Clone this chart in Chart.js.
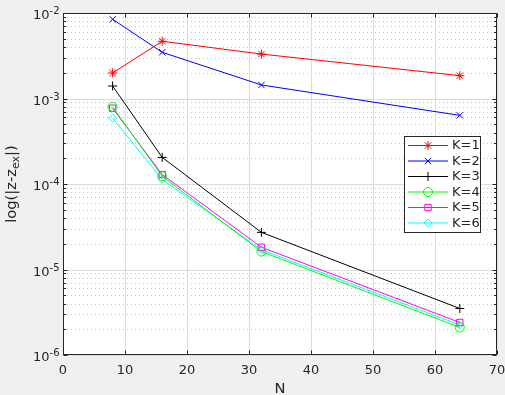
<!DOCTYPE html>
<html>
<head>
<meta charset="utf-8">
<script src="https://cdn.jsdelivr.net/npm/chart.js@4/dist/chart.umd.min.js"></script>
<style>
  html, body { margin: 0; padding: 0; background: #f0f0f0; }
  #wrap { width: 505px; height: 395px; }
</style>
</head>
<body>
<div id="wrap"><canvas id="myChart" width="505" height="395"></canvas></div>
<script>
// data
var nValues = [8, 16, 32, 64];
var seriesNames = ["K=1", "K=2", "K=3", "K=4", "K=5", "K=6"];
var errK1 = [1.99e-3, 4.67e-3, 3.31e-3, 1.85e-3];
var errK2 = [8.44e-3, 3.47e-3, 1.44e-3, 6.35e-4];
var errK3 = [1.40e-3, 2.05e-4, 2.72e-5, 3.50e-6];
var errK4 = [8.0e-4, 1.23e-4, 1.62e-5, 2.10e-6];
var errK5 = [7.7e-4, 1.29e-4, 1.82e-5, 2.40e-6];
var errK6 = [5.9e-4, 1.13e-4, 1.70e-5, 2.25e-6];
var xTicks = [0, 10, 20, 30, 40, 50, 60, 70];
var yTickExps = [-6, -5, -4, -3, -2];

var colors = ["#ff0000", "#0000ff", "#000000", "#00ff00", "#ff00ff", "#00ffff"];
var markers = ["star", "crossRot", "cross", "circle", "rect", "rectRot"];
var allErr = [errK1, errK2, errK3, errK4, errK5, errK6];

var FONT = "'DejaVu Sans', sans-serif";
var AXIS = "#262626";

function makeSet(i) {
  var pts = [];
  for (var j = 0; j < nValues.length; j++) pts.push({x: nValues[j], y: allErr[i][j]});
  return {
    label: seriesNames[i],
    data: pts,
    borderColor: colors[i],
    backgroundColor: "rgba(0,0,0,0)",
    pointBackgroundColor: "rgba(0,0,0,0)",
    pointBorderColor: colors[i],
    pointStyle: markers[i],
    pointRadius: markers[i] == "rectRot" ? 4 : 4.5,
    pointBorderWidth: 1,
    borderWidth: 1,
    tension: 0
  };
}

var datasets = [];
for (var i = 0; i < seriesNames.length; i++) datasets.push(makeSet(i));

function markerDraw(ctx, style, x, y, r) {
  if (Chart.helpers && Chart.helpers.drawPoint) {
    Chart.helpers.drawPoint(ctx, {pointStyle: style, rotation: 0, radius: r, borderWidth: 1}, x, y);
  }
}

var matlabPlugin = {
  id: 'matlab',
  beforeDraw: function(chart) {
    var ctx = chart.ctx, a = chart.chartArea;
    ctx.save();
    ctx.fillStyle = "#f0f0f0";
    ctx.fillRect(0, 0, chart.width, chart.height);
    ctx.fillStyle = "#ffffff";
    ctx.fillRect(a.left, a.top, a.right - a.left, a.bottom - a.top);
    ctx.restore();
  },
  beforeDatasetsDraw: function(chart) {
    var ctx = chart.ctx, a = chart.chartArea;
    var xs = chart.scales.x, ys = chart.scales.y;
    ctx.save();
    ctx.lineWidth = 1;
    // minor y grid (dotted)
    ctx.strokeStyle = "#c4c4c4";
    ctx.setLineDash([1, 3]);
    for (var e = -6; e < -2; e++) {
      for (var m = 2; m <= 9; m++) {
        var py = Math.round(ys.getPixelForValue(m * Math.pow(10, e))) + 0.5;
        ctx.beginPath(); ctx.moveTo(a.left, py); ctx.lineTo(a.right, py); ctx.stroke();
      }
    }
    ctx.setLineDash([]);
    // major grid
    ctx.strokeStyle = "#dcdcdc";
    xTicks.forEach(function(v) {
      var px = Math.round(xs.getPixelForValue(v)) + 0.5;
      ctx.beginPath(); ctx.moveTo(px, a.top); ctx.lineTo(px, a.bottom); ctx.stroke();
    });
    yTickExps.forEach(function(e) {
      var py = Math.round(ys.getPixelForValue(Math.pow(10, e))) + 0.5;
      ctx.beginPath(); ctx.moveTo(a.left, py); ctx.lineTo(a.right, py); ctx.stroke();
    });
    ctx.restore();
  },
  afterDatasetsDraw: function(chart) {
    var ctx = chart.ctx, a = chart.chartArea;
    var xs = chart.scales.x, ys = chart.scales.y;
    var L = Math.round(a.left) + 0.5, R = Math.round(a.right) - 0.5;
    var T = Math.round(a.top) + 0.5, B = Math.round(a.bottom) - 0.5;
    ctx.save();
    ctx.strokeStyle = AXIS;
    ctx.lineWidth = 1;
    ctx.strokeRect(L, T, R - L, B - T);

    // tick marks pointing inward
    var tl = 4;
    xTicks.forEach(function(v) {
      var px = Math.round(xs.getPixelForValue(v)) + 0.5;
      ctx.beginPath();
      ctx.moveTo(px, B); ctx.lineTo(px, B - tl);
      ctx.moveTo(px, T); ctx.lineTo(px, T + tl);
      ctx.stroke();
    });
    for (var e = -6; e <= -2; e++) {
      for (var m = 1; m <= 9; m++) {
        var v = m * Math.pow(10, e);
        if (v > 1.0001e-2) break;
        var py = Math.round(ys.getPixelForValue(v)) + 0.5;
        var len = m == 1 ? tl : 2.5;
        ctx.beginPath();
        ctx.moveTo(L, py); ctx.lineTo(L + len, py);
        ctx.moveTo(R, py); ctx.lineTo(R - len, py);
        ctx.stroke();
      }
    }

    // x tick labels
    ctx.fillStyle = AXIS;
    ctx.font = "13px " + FONT;
    ctx.textAlign = "center";
    ctx.textBaseline = "alphabetic";
    xTicks.forEach(function(v) {
      ctx.fillText(String(v), xs.getPixelForValue(v), 374);
    });

    // y tick labels 10^e
    yTickExps.forEach(function(e) {
      var py = ys.getPixelForValue(Math.pow(10, e));
      var sup = String(e);
      ctx.font = "10px " + FONT;
      var ws = ctx.measureText(sup).width;
      ctx.textAlign = "right";
      ctx.fillText(sup, L - 4, py + 1);
      ctx.font = "13px " + FONT;
      ctx.fillText("10", L - 4 - ws, py + 6);
    });

    // x axis label
    ctx.font = "14.7px " + FONT;
    ctx.textAlign = "center";
    ctx.fillText("N", (a.left + a.right) / 2, 393);

    // y axis label with subscript
    ctx.save();
    ctx.translate(16, (a.top + a.bottom) / 2);
    ctx.rotate(-Math.PI / 2);
    var p1 = "log(|z-z", p2 = "ex", p3 = "|)";
    ctx.font = "14.7px " + FONT;
    var w1 = ctx.measureText(p1).width, w3 = ctx.measureText(p3).width;
    ctx.font = "11px " + FONT;
    var w2 = ctx.measureText(p2).width;
    var x0 = -(w1 + w2 + w3) / 2;
    ctx.textAlign = "left";
    ctx.font = "14.7px " + FONT;
    ctx.fillText(p1, x0, 0);
    ctx.fillText(p3, x0 + w1 + w2, 0);
    ctx.font = "11px " + FONT;
    ctx.fillText(p2, x0 + w1, 3);
    ctx.restore();

    // legend box
    var bx = 404.5, by = 136.5, bw = 76, bh = 96;
    ctx.fillStyle = "#ffffff";
    ctx.fillRect(bx, by, bw, bh);
    ctx.strokeStyle = AXIS;
    ctx.strokeRect(bx, by, bw, bh);
    for (var k = 0; k < seriesNames.length; k++) {
      var yy = 145.5 + k * 15.5;
      ctx.strokeStyle = colors[k];
      ctx.lineWidth = 1;
      ctx.beginPath(); ctx.moveTo(408, yy); ctx.lineTo(448, yy); ctx.stroke();
      ctx.fillStyle = "rgba(0,0,0,0)";
      markerDraw(ctx, markers[k], 428, yy, markers[k] == "rectRot" ? 4 : 4.5);
      ctx.fillStyle = AXIS;
      ctx.font = "13px " + FONT;
      ctx.textAlign = "left";
      ctx.textBaseline = "middle";
      ctx.fillText(seriesNames[k], 452, yy + 0.5);
    }
    ctx.restore();
  }
};

var ctx = document.getElementById("myChart").getContext("2d");
var myChart = new Chart(ctx, {
  type: 'line',
  data: { datasets: datasets },
  options: {
    responsive: false,
    animation: false,
    devicePixelRatio: 1,
    layout: { padding: { top: 13, right: 8, bottom: 0, left: 0 } },
    plugins: { legend: { display: false }, tooltip: { enabled: false } },
    scales: {
      x: {
        type: 'linear', min: 0, max: 70,
        ticks: { display: false, stepSize: 10 },
        grid: { display: false },
        border: { display: false },
        afterFit: function(s) { s.height = 40; }
      },
      y: {
        type: 'logarithmic', min: 1e-6, max: 1e-2,
        ticks: { display: false },
        grid: { display: false },
        border: { display: false },
        afterFit: function(s) { s.width = 63; }
      }
    }
  },
  plugins: [matlabPlugin]
});
</script>
</body>
</html>
